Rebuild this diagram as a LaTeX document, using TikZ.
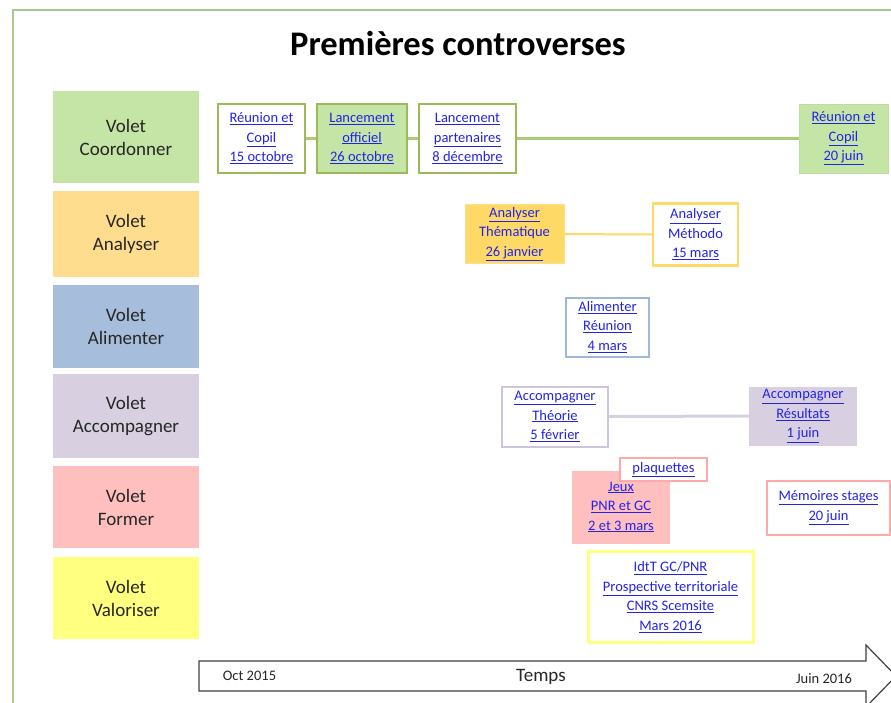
\documentclass[tikz,border=0pt]{standalone}
\usepackage{fontspec}
\setmainfont{Carlito}
\definecolor{frameGreen}{HTML}{A8C88E}
\definecolor{coordFill}{HTML}{C4E5A6}
\definecolor{coordLine}{HTML}{9BBB59}
\definecolor{anaFill}{HTML}{FEDD8E}
\definecolor{anaDark}{HTML}{FFD966}
\definecolor{alimFill}{HTML}{A6BDDB}
\definecolor{alimLine}{HTML}{9FB8D8}
\definecolor{accFill}{HTML}{D8D0E1}
\definecolor{accLine}{HTML}{CEC4DC}
\definecolor{formFill}{HTML}{FFBFBF}
\definecolor{formLine}{HTML}{FFAAAA}
\definecolor{valFill}{HTML}{FFFF80}
\definecolor{voletText}{HTML}{262626}
\definecolor{linkBlue}{RGB}{35,35,232}
\newcommand{\lk}[1]{\underline{#1}}
\begin{document}
\begin{tikzpicture}[x=1pt,y=-1pt,
  volet/.style={fill=#1, inner sep=0pt, minimum width=146pt, align=center,
    text=voletText, font=\fontsize{19}{23}\selectfont},
  event/.style={inner sep=0pt, align=center, text=linkBlue,
    font=\fontsize{14.5}{19.5}\selectfont},
  link/.style={line width=#1}]
\useasboundingbox (0,0) rectangle (891,702);
\clip (0,0) rectangle (891,702);
% cadre
\draw[frameGreen, line width=1.5pt] (900,10) -- (13,10) -- (13,710);
\node (titre) at (458,44) {\fontsize{34.5}{40}\selectfont\bfseries Premières controverses};
% volets
\node[volet=coordFill, minimum height=92pt] (vCoord) at (126,137) {Volet\\Coordonner};
\node[volet=anaFill, minimum height=86pt] (vAnalyse) at (126,234) {Volet\\Analyser};
\node[volet=alimFill, minimum height=83pt] (vAlim) at (126,326.5) {Volet\\Alimenter};
\node[volet=accFill, minimum height=84pt] (vAccomp) at (126,416) {Volet\\Accompagner};
\node[volet=formFill, minimum height=82pt] (vFormer) at (126,507) {Volet\\Former};
\node[volet=valFill, minimum height=82pt] (vValor) at (126,598) {Volet\\Valoriser};
% coordonner
\node[event, draw=coordLine, line width=2pt, fill=white, minimum width=87pt, minimum height=69pt] (coordA) at (261.5,138.5) {\lk{Réunion et}\\\lk{Copil}\\\lk{15 octobre}};
\node[event, draw=coordLine, line width=2.5pt, fill=coordFill, minimum width=90pt, minimum height=69pt] (coordB) at (362,138.5) {\lk{Lancement}\\\lk{officiel}\\\lk{26 octobre}};
\node[event, draw=coordLine, line width=2pt, fill=white, minimum width=97pt, minimum height=69pt] (coordC) at (467.5,138.5) {\lk{Lancement}\\\lk{partenaires}\\\lk{8 décembre}};
\node[event, draw=coordFill!90!gray, line width=0.6pt, fill=coordFill, minimum width=89pt, minimum height=69pt] (coordD) at (843.5,138.5) {\lk{Réunion et}\\\lk{Copil}\\\lk{20 juin}};
\draw[link=2.5pt, coordLine!80!white] (coordA) -- (coordB);
\draw[link=2.5pt, coordLine!80!white] (coordB) -- (coordC);
\draw[link=2.5pt, coordLine!80!white] (coordC) -- (coordD);
% analyser
\node[event, fill=anaDark, draw=anaFill, line width=0.6pt, minimum width=99pt, minimum height=59pt] (anaA) at (514.5,234) {\lk{Analyser}\\Thématique\\\lk{26 janvier}};
\node[event, fill=white, draw=anaDark, line width=2.5pt, minimum width=85pt, minimum height=62pt] (anaB) at (695.5,234.5) {\lk{Analyser}\\Méthodo\\\lk{15 mars}};
\draw[link=2pt, anaDark] (anaA) -- (anaB);
% alimenter
\node[event, fill=white, draw=alimLine, line width=2pt, minimum width=83pt, minimum height=59pt] (alimA) at (607.5,327) {\lk{Alimenter}\\\lk{Réunion}\\\lk{4 mars}};
% accompagner
\node[event, fill=white, draw=accLine, line width=2pt, minimum width=106pt, minimum height=60pt] (accA) at (555,416.5) {\lk{Accompagner}\\\lk{Théorie}\\\lk{5 février}};
\node[event, fill=accFill, minimum width=108pt, minimum height=59pt] (accB) at (803,416) {\lk{Accompagner}\\\lk{Résultats}\\\lk{1 juin}};
\draw[link=3pt, accFill] (accA) -- (accB);
% former
\node[event, fill=formFill, minimum width=98pt, minimum height=73pt] (formJeux) at (621,507) {\lk{Jeux}\\\lk{PNR et GC}\\\lk{2 et 3 mars}};
\node[event, fill=white, draw=formLine, line width=2pt, minimum width=87pt, minimum height=23pt] (formPlaq) at (663.5,469.5) {\lk{plaquettes}};
\node[event, fill=white, draw=formLine, line width=2pt, minimum width=123pt, minimum height=54pt] (formMem) at (828.5,507.5) {\lk{Mémoires stages}\\\lk{20 juin}};
% valoriser
\node[event, fill=white, draw=valFill, line width=3pt, minimum width=165pt, minimum height=91pt] (valA) at (670.5,597) {\lk{IdtT GC/PNR}\\\lk{Prospective territoriale}\\\lk{CNRS Scemsite}\\\lk{Mars 2016}};
% temps
\draw[black!75, line width=1.2pt, fill=white] (199,661) -- (866,661) -- (866,645) -- (896,676) -- (866,707) -- (866,691) -- (199,691) -- cycle;
\node[font=\fontsize{14.5}{17}\selectfont, text=voletText] (debut) at (249.5,676) {Oct 2015};
\node[font=\fontsize{19}{22}\selectfont, text=voletText] (temps) at (541,677) {Temps};
\node[font=\fontsize{14.5}{17}\selectfont, text=voletText] (fin) at (824,679) {Juin 2016};
\end{tikzpicture}
\end{document}
